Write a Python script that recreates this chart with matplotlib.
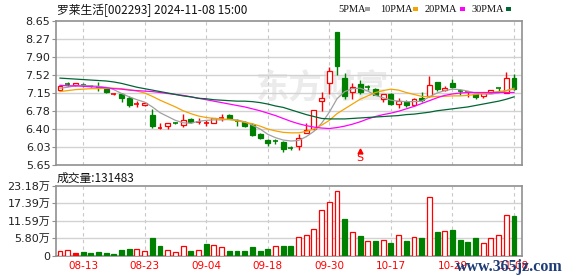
import matplotlib
matplotlib.use("Agg")
import matplotlib.pyplot as plt
from matplotlib.patches import Rectangle

# ---- data (罗莱生活 002293, daily K) ----
opens  = [7.22, 7.35, 7.31, 7.32, 7.30, 7.27, 7.23, 7.13, 7.13, 7.05,
          6.91, 6.90, 6.69, 6.41, 6.46, 6.53, 6.49, 6.60, 6.55, 6.51,
          6.53, 6.62, 6.69, 6.58, 6.55, 6.49, 6.30, 6.18, 6.16, 6.12,
          6.00, 6.04, 6.32, 6.39, 6.98, 7.36, 8.42, 7.46, 7.18, 7.34,
          7.28, 7.24, 7.03, 7.12, 6.92, 6.97, 6.90, 7.04, 7.08, 7.38,
          7.22, 7.36, 7.19, 7.16, 7.12, 7.08, 7.16, 7.25, 7.16, 7.46]
highs  = [7.31, 7.37, 7.36, 7.36, 7.31, 7.38, 7.24, 7.16, 7.14, 7.08,
          6.98, 6.96, 6.82, 6.53, 6.53, 6.55, 6.71, 6.63, 6.63, 6.58,
          6.63, 6.72, 6.71, 6.61, 6.56, 6.53, 6.31, 6.20, 6.20, 6.14,
          6.04, 6.30, 6.53, 6.80, 7.18, 7.69, 8.42, 7.56, 7.36, 7.43,
          7.32, 7.26, 7.13, 7.15, 7.05, 7.01, 7.05, 7.18, 7.50, 7.38,
          7.29, 7.44, 7.23, 7.17, 7.12, 7.15, 7.22, 7.26, 7.58, 7.55]
lows   = [7.21, 7.30, 7.30, 7.27, 7.28, 7.20, 7.15, 7.10, 6.96, 6.85,
          6.86, 6.87, 6.43, 6.41, 6.39, 6.50, 6.44, 6.53, 6.50, 6.47,
          6.52, 6.56, 6.60, 6.46, 6.44, 6.25, 6.20, 6.04, 6.08, 5.93,
          5.96, 5.97, 6.32, 6.37, 6.77, 7.12, 7.53, 7.03, 7.03, 7.13,
          7.22, 7.10, 6.96, 6.90, 6.84, 6.86, 6.88, 6.96, 7.07, 7.20,
          7.19, 7.26, 7.10, 7.06, 7.03, 7.05, 7.15, 7.20, 7.15, 7.21]
closes = [7.30, 7.34, 7.35, 7.31, 7.29, 7.26, 7.17, 7.14, 7.05, 6.89,
          6.92, 6.94, 6.46, 6.42, 6.53, 6.52, 6.58, 6.55, 6.56, 6.52,
          6.63, 6.63, 6.61, 6.57, 6.46, 6.27, 6.22, 6.10, 6.15, 5.99,
          5.99, 6.22, 6.37, 6.80, 7.05, 7.61, 7.72, 7.08, 7.27, 7.18,
          7.27, 7.11, 7.13, 6.92, 6.98, 6.89, 7.03, 7.00, 7.32, 7.24,
          7.26, 7.27, 7.18, 7.17, 7.07, 7.15, 7.22, 7.24, 7.46, 7.23]

ma5  = [7.25, 7.27, 7.30, 7.31, 7.30, 7.29, 7.27, 7.22, 7.14, 7.07,
        7.01, 6.96, 6.86, 6.74, 6.66, 6.58, 6.53, 6.52, 6.56, 6.58,
        6.59, 6.59, 6.60, 6.59, 6.55, 6.48, 6.40, 6.29, 6.22, 6.17,
        6.15, 6.16, 6.24, 6.35, 6.52, 6.75, 7.03, 7.18, 7.24, 7.25,
        7.19, 7.10, 7.05, 7.00, 6.98, 6.97, 6.97, 6.98, 7.07, 7.15,
        7.20, 7.23, 7.22, 7.19, 7.15, 7.13, 7.13, 7.15, 7.20, 7.25]
ma10 = [7.18, 7.20, 7.22, 7.23, 7.24, 7.24, 7.25, 7.25, 7.24, 7.22,
        7.19, 7.15, 7.08, 7.00, 6.93, 6.86, 6.78, 6.72, 6.67, 6.64,
        6.62, 6.61, 6.60, 6.57, 6.54, 6.51, 6.46, 6.40, 6.36, 6.33,
        6.32, 6.32, 6.35, 6.40, 6.48, 6.58, 6.72, 6.82, 6.92, 7.02,
        7.09, 7.16, 7.20, 7.23, 7.21, 7.16, 7.12, 7.08, 7.07, 7.08,
        7.08, 7.09, 7.09, 7.10, 7.12, 7.14, 7.16, 7.18, 7.20, 7.23]
ma20 = [7.31, 7.30, 7.30, 7.29, 7.28, 7.27, 7.26, 7.24, 7.23, 7.21,
        7.20, 7.19, 7.18, 7.16, 7.14, 7.12, 7.10, 7.07, 7.04, 7.01,
        6.98, 6.95, 6.92, 6.89, 6.86, 6.82, 6.78, 6.73, 6.68, 6.62,
        6.56, 6.51, 6.47, 6.44, 6.42, 6.41, 6.43, 6.46, 6.50, 6.55,
        6.61, 6.66, 6.70, 6.73, 6.77, 6.82, 6.87, 6.93, 6.99, 7.05,
        7.10, 7.13, 7.15, 7.16, 7.16, 7.16, 7.16, 7.16, 7.16, 7.16]
ma30 = [7.46, 7.45, 7.44, 7.43, 7.42, 7.41, 7.40, 7.38, 7.35, 7.31,
        7.27, 7.24, 7.21, 7.18, 7.15, 7.12, 7.09, 7.07, 7.04, 7.03,
        7.01, 7.00, 6.99, 6.98, 6.98, 6.97, 6.95, 6.92, 6.88, 6.85,
        6.80, 6.75, 6.70, 6.66, 6.62, 6.61, 6.61, 6.61, 6.62, 6.63,
        6.64, 6.65, 6.66, 6.67, 6.68, 6.70, 6.71, 6.73, 6.75, 6.78,
        6.80, 6.82, 6.84, 6.86, 6.89, 6.92, 6.95, 6.98, 7.02, 7.07]

# volume in 万 shares, colour: r = red hollow, R = red filled, g = green
volume = [1.5, 1.8, 0.9, 1.3, 1.0, 1.3, 0.9, 0.6, 1.8, 2.3,
          2.2, 1.6, 5.9, 3.2, 1.8, 1.2, 3.1, 1.6, 1.8, 3.9,
          3.4, 2.7, 1.6, 1.6, 1.6, 2.8, 1.6, 2.2, 3.1, 3.2,
          3.2, 6.1, 6.8, 8.7, 15.1, 17.7, 21.4, 12.2, 7.7, 6.5,
          4.7, 4.8, 5.1, 4.2, 6.7, 4.8, 6.1, 5.8, 19.4, 7.7,
          8.1, 8.5, 5.1, 4.4, 5.7, 4.1, 5.7, 6.7, 13.4, 13.15]
vol_kind = "rrRggggggg" "rrggrrrgrg" "rrggggggrg" "grrrrrrgrg" "rgrgrgrgrg" "rggggrrrrg"

price_ticks = [5.65, 6.03, 6.40, 6.78, 7.15, 7.52, 7.90, 8.27, 8.65]
vol_ticks = [0, 5.80, 11.59, 17.39, 23.18]
vol_tick_labels = ["0", "5.80万", "11.59万", "17.39万", "23.18万"]
date_pos = [3, 11, 19, 27, 35, 43, 51, 59]
date_labels = ["08-13", "08-23", "09-04", "09-18", "09-30", "10-17", "10-29", "11-08"]
sell_idx = 39

RED = "#ff0000"
GREEN = "#008000"
MA_COLORS = ["#a0a0a0", "#f5a300", "#ff00ff", "#006633"]
FRAME = "#909090"
GRID = "#d2d2d2"

plt.rcParams["font.family"] = ["DejaVu Sans", "Noto Sans CJK SC"]

W, H = 578, 276
fig = plt.figure(figsize=(W / 100, H / 100), dpi=100)


def px_axes(x0, y0, x1, y1):
    return fig.add_axes([x0 / W, 1 - y1 / H, (x1 - x0) / W, (y1 - y0) / H])


ax = px_axes(56, 21, 522, 165)
axv = px_axes(56, 186, 522, 255.5)

n = len(closes)
bw = 0.64

for a in (ax, axv):
    a.set_xlim(-0.52, n + 0.04)
    for s in a.spines.values():
        s.set_color(FRAME)
        s.set_linewidth(1.2)
    for p in date_pos:
        a.axvline(p, color="#c8c8c8", lw=0.8, ls=(0, (3, 3)), zorder=1)
    a.tick_params(axis="y", length=3, width=0.8, color=FRAME, labelsize=8,
                  labelcolor="#222222", pad=1)

# price panel
ax.set_ylim(5.65, 8.65)
ax.set_yticks(price_ticks)
ax.set_yticklabels(["%.2f" % t for t in price_ticks])
for t in price_ticks[1:-1]:
    ax.axhline(t, color=GRID, lw=1, zorder=1)
ax.set_xticks([])

ax.text(0.57, 0.53, "东方财富", transform=ax.transAxes, fontsize=24,
        fontweight="bold", color="#ebebeb", ha="center", va="center",
        family=["Noto Sans CJK SC"], zorder=0.5)

for i in range(n):
    o, h, l, c = opens[i], highs[i], lows[i], closes[i]
    col = RED if c > o else GREEN
    if abs(c - o) <= 0.011:
        m = (o + c) / 2
        ax.vlines(i, l, h, color=col, lw=1, zorder=3)
        ax.hlines(m, i - bw / 2, i + bw / 2, color=col, lw=1.2, zorder=3)
    elif c > o:
        ax.vlines(i, l, o, color=col, lw=1, zorder=3)
        ax.vlines(i, c, h, color=col, lw=1, zorder=3)
        ax.add_patch(Rectangle((i - bw / 2, o), bw, c - o, facecolor="white",
                               edgecolor=col, lw=0.9, zorder=3))
    else:
        ax.vlines(i, l, h, color=col, lw=1, zorder=3)
        ax.add_patch(Rectangle((i - bw / 2, c), bw, o - c, facecolor=col,
                               edgecolor=col, lw=0.9, zorder=3))

for ma, col in zip([ma5, ma10, ma20, ma30], MA_COLORS):
    ax.plot(range(n), ma, color=col, lw=0.9, zorder=4)

ax.plot(sell_idx, 5.95, marker="^", color=RED, ms=3.5, zorder=5)
ax.text(sell_idx, 5.79, "S", color=RED, fontsize=8, ha="center", va="center",
        zorder=5)

# volume panel
axv.set_ylim(0, 23.18)
axv.set_yticks(vol_ticks)
axv.set_yticklabels(vol_tick_labels)
for t in vol_ticks[1:-1]:
    axv.axhline(t, color=GRID, lw=1, zorder=1)
for i in range(n):
    k = vol_kind[i]
    if k == "g":
        fc, ec = GREEN, GREEN
    elif k == "R":
        fc, ec = RED, RED
    else:
        fc, ec = "white", RED
    axv.add_patch(Rectangle((i - bw / 2, 0), bw, volume[i], facecolor=fc,
                            edgecolor=ec, lw=0.9, zorder=3))
axv.set_xticks(date_pos)
axv.set_xticklabels(date_labels)
axv.tick_params(axis="x", length=0, labelsize=7.5, labelcolor=RED, pad=4)

# header texts
fig.text(57 / W, 1 - 10 / H, "罗莱生活[002293] 2024-11-08 15:00", fontsize=8.5,
         family=["Noto Sans CJK SC"], va="center", ha="left", color="#111111")
fig.text(57 / W, 1 - 178 / H, "成交量:131483", fontsize=8.5,
         family=["Noto Sans CJK SC"], va="center", ha="left", color="#111111")

legend_items = [("5PMA", 338, 365), ("10PMA", 380, 413), ("20PMA", 425, 460),
                ("30PMA", 472, 506)]
for (name, tx, sx), col in zip(legend_items, MA_COLORS):
    fig.text(tx / W, 1 - 9.5 / H, name, fontsize=7.5, family="Liberation Serif",
             va="center", ha="left", color="#111111")
    fig.patches.append(Rectangle((sx / W, 1 - 10.5 / H), 5 / W, 3 / H,
                                 facecolor=col, edgecolor="none",
                                 transform=fig.transFigure, figure=fig))

fig.text(456 / W, 1 - 267 / H, "www.365jz.com", fontsize=11.5,
         family="Liberation Serif", fontweight="bold", color="#1d3c78",
         va="center", ha="left")

fig.savefig("out.png", dpi=100)
